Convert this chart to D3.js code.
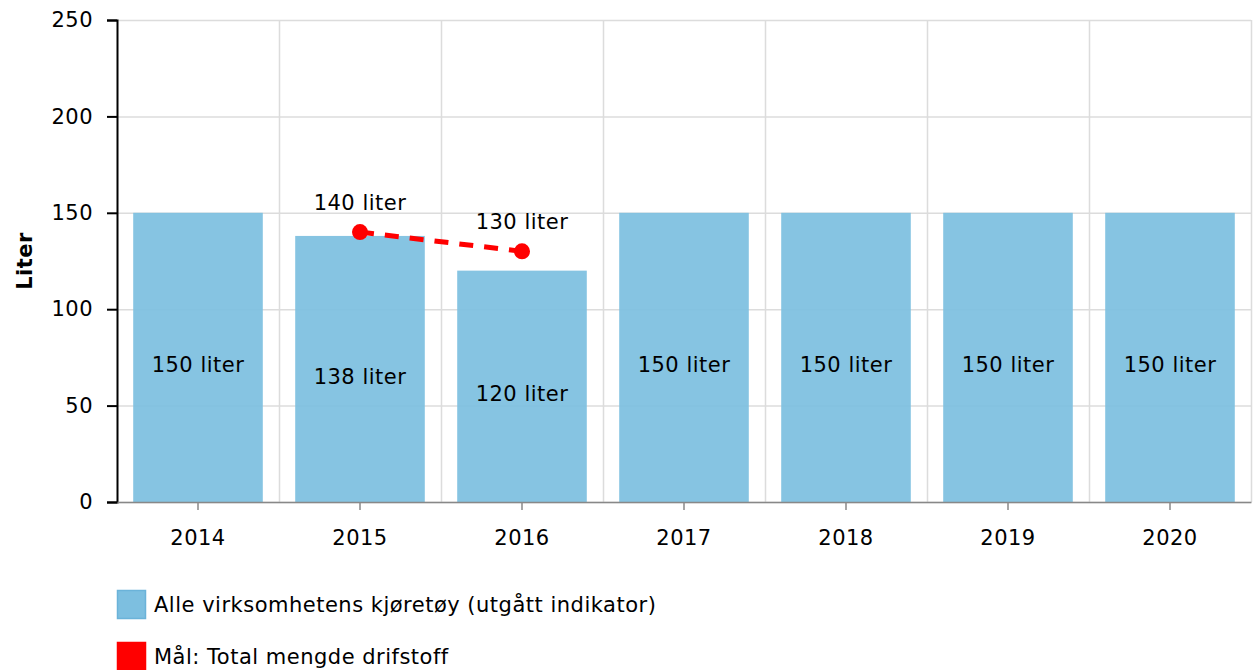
<!DOCTYPE html>
<html>
<head>
<meta charset="utf-8">
<script src="https://cdn.jsdelivr.net/npm/d3@7"></script>
<style>
	body { margin: 0; background: #fff; }
	text { font-family: "DejaVu Sans", Verdana, sans-serif; fill: #000; letter-spacing: 0.5px; }
</style>
</head>
<body>
<svg id="chart" width="1254" height="670"></svg>
<script>
// chart data
var years = ["2014", "2015", "2016", "2017", "2018", "2019", "2020"];
var barValues = [150, 138, 120, 150, 150, 150, 150];
var goalYears = ["2015", "2016"];
var goalValues = [140, 130];
var yTicks = [0, 50, 100, 150, 200, 250];
var seriesNames = ["Alle virksomhetens kjøretøy (utgått indikator)", "Mål: Total mengde drifstoff"];

var width = 1254,
	height = 670,
	margin = { left: 117, right: 3, top: 20, bottom: 168 },
	FONT_SIZE = "21px",
	BAR_COLOR = "#7dbfe0",
	LINE_COLOR = "#ff0000";

var svg = d3.select("#chart");

var x = d3.scaleBand()
	.domain(years)
	.range([margin.left, width - margin.right])
	.paddingInner(0.2)
	.paddingOuter(0.1);

// a band scale with no padding, to place the vertical grid between the years
var xGrid = d3.scaleBand()
	.domain(years)
	.range([margin.left, width - margin.right]);

var y = d3.scaleLinear()
	.domain([0, 250])
	.range([height - margin.bottom, margin.top]);

// grid lines
var grid = svg.append("g").attr("class", "grid");

grid.selectAll(".hgrid")
	.data(yTicks)
	.enter()
	.append("line")
	.attr("x1", margin.left)
	.attr("x2", width - margin.right)
	.attr("y1", function(d) { return y(d) + 0.5; })
	.attr("y2", function(d) { return y(d) + 0.5; })
	.style("stroke", "#dcdcdc")
	.style("stroke-width", 1.5);

grid.selectAll(".vgrid")
	.data(years)
	.enter()
	.append("line")
	.attr("x1", function(d) { return xGrid(d) + xGrid.bandwidth() + 0.5; })
	.attr("x2", function(d) { return xGrid(d) + xGrid.bandwidth() + 0.5; })
	.attr("y1", y(250))
	.attr("y2", y(0))
	.style("stroke", "#dcdcdc")
	.style("stroke-width", 1.5);

// bars
var bars = svg.append("g").attr("class", "bars");

bars.selectAll("rect")
	.data(barValues)
	.enter()
	.append("rect")
	.attr("x", function(d, i) { return x(years[i]); })
	.attr("width", x.bandwidth())
	.attr("y", function(d) { return y(d); })
	.attr("height", function(d) { return y(0) - y(d); })
	.style("fill", BAR_COLOR)
	.style("fill-opacity", 0.93);

bars.selectAll("text")
	.data(barValues)
	.enter()
	.append("text")
	.attr("x", function(d, i) { return x(years[i]) + x.bandwidth() / 2; })
	.attr("y", function(d) { return (y(d) + y(0)) / 2 + 15; })
	.attr("text-anchor", "middle")
	.style("font-size", FONT_SIZE)
	.text(function(d) { return d + " liter"; });

// y axis
var yAxis = svg.append("g")
	.attr("transform", "translate(" + margin.left + ",0)")
	.call(d3.axisLeft(y).tickValues(yTicks).tickSize(10).tickPadding(14));

yAxis.select(".domain").style("stroke", "#000").style("stroke-width", 2);
yAxis.selectAll(".tick line").style("stroke", "#000").style("stroke-width", 2);
yAxis.selectAll(".tick text")
	.style("font-family", "'DejaVu Sans', Verdana, sans-serif")
	.style("font-size", FONT_SIZE)
	.attr("fill", "#000");

svg.append("text")
	.attr("transform", "translate(32," + ((y(0) + y(250)) / 2) + ") rotate(-90)")
	.attr("text-anchor", "middle")
	.style("font-size", FONT_SIZE)
	.style("font-weight", "bold")
	.text("Liter");

// x axis
var xAxis = svg.append("g")
	.attr("transform", "translate(0," + y(0) + ")")
	.call(d3.axisBottom(x).tickSize(8).tickSizeOuter(0).tickPadding(20));

xAxis.select(".domain").style("stroke", "#888").style("stroke-width", 1.5);
xAxis.selectAll(".tick line").style("stroke", "#888").style("stroke-width", 1.5);
xAxis.selectAll(".tick text")
	.style("font-family", "'DejaVu Sans', Verdana, sans-serif")
	.style("font-size", FONT_SIZE)
	.attr("fill", "#000");

// goal line
var goal = svg.append("g").attr("class", "goal");

var line = d3.line()
	.x(function(d, i) { return x(goalYears[i]) + x.bandwidth() / 2; })
	.y(function(d) { return y(d); });

goal.append("path")
	.datum(goalValues)
	.attr("d", line)
	.style("fill", "none")
	.style("stroke", LINE_COLOR)
	.style("stroke-width", 5)
	.style("stroke-dasharray", "14,11");

goal.selectAll("circle")
	.data(goalValues)
	.enter()
	.append("circle")
	.attr("cx", function(d, i) { return x(goalYears[i]) + x.bandwidth() / 2; })
	.attr("cy", function(d) { return y(d); })
	.attr("r", 8)
	.style("fill", LINE_COLOR);

goal.selectAll("text")
	.data(goalValues)
	.enter()
	.append("text")
	.attr("x", function(d, i) { return x(goalYears[i]) + x.bandwidth() / 2; })
	.attr("y", function(d) { return y(d) - 22; })
	.attr("text-anchor", "middle")
	.style("font-size", FONT_SIZE)
	.text(function(d) { return d + " liter"; });

// legend
var legend = svg.append("g").attr("class", "legend");
var legendColors = [BAR_COLOR, LINE_COLOR];

var items = legend.selectAll("g")
	.data(seriesNames)
	.enter()
	.append("g")
	.attr("transform", function(d, i) { return "translate(117," + (590 + i * 52) + ")"; });

items.append("rect")
	.attr("x", 0.5)
	.attr("y", 0.5)
	.attr("width", 28)
	.attr("height", 28)
	.style("fill", function(d, i) { return legendColors[i]; })
	.style("stroke", function(d, i) { return i === 0 ? "#6bb3d9" : LINE_COLOR; })
	.style("stroke-width", 1.5);

items.append("text")
	.attr("x", 37)
	.attr("y", 22)
	.style("font-size", FONT_SIZE)
	.text(function(d) { return d; });
</script>
</body>
</html>
